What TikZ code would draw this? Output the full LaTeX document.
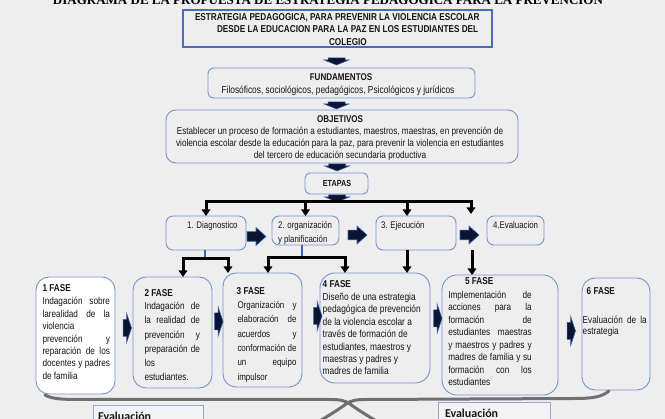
\documentclass[tikz,border=0pt]{standalone}
\usepackage{fontspec}
\setmainfont{Liberation Sans}[FakeStretch=0.82]
\newfontfamily\titlefont{Liberation Serif}
\newfontfamily\evfont{Carlito}
\usetikzlibrary{arrows.meta,calc}
\newcommand{\J}[1]{\makebox[\linewidth][s]{#1}}
\definecolor{bgc}{RGB}{238,238,238}
\definecolor{bord}{RGB}{118,150,205}
\definecolor{bordB}{RGB}{70,110,185}
\definecolor{navy}{RGB}{12,20,48}
\definecolor{arrblue}{RGB}{60,100,180}
\definecolor{txt}{RGB}{22,22,22}
\definecolor{brc}{RGB}{112,112,112}
\definecolor{evb}{RGB}{140,170,220}
\definecolor{evfill}{RGB}{243,243,243}
\begin{document}
\begin{tikzpicture}[x=1pt,y=-1pt,
  rbox/.style={draw=bord, line width=0.9pt, rounded corners=#1, inner sep=0pt, outer sep=0pt, anchor=north west},
  tx/.style={anchor=base west, inner sep=0pt, outer sep=0pt, text=txt},
  ctx/.style={anchor=base, inner sep=0pt, outer sep=0pt, text=txt},
  hd/.style={tx, font=\fontsize{10}{12}\selectfont\bfseries},
  barline/.style={line width=3pt, black, line cap=rect},
  barr/.style={line width=3pt, black, -{Triangle[width=8.5pt,length=6.5pt]}},
  tickline/.style={line width=2pt, arrblue},
  bracel/.style={line width=3pt, brc, line cap=round},
  dnarr/.pic={\filldraw[fill=navy, draw=arrblue, line width=0.5pt] (-8.5,0) -- (8.5,0) -- (8.5,2) -- (12.5,2) -- (0,7) -- (-12.5,2) -- (-8.5,2) -- cycle;},
  rblk/.pic={\filldraw[fill=navy, draw=arrblue, line width=0.6pt] (0,-4.8) -- (9,-4.8) -- (9,-9) -- (19,0) -- (9,9) -- (9,4.8) -- (0,4.8) -- cycle;},
  narr/.pic={\filldraw[fill=navy, draw=arrblue, line width=0.5pt] (0,-8.5) -- (3.5,-8.5) -- (3.5,-15) -- (8.5,0) -- (3.5,15) -- (3.5,8.5) -- (0,8.5) -- cycle;}
]
\useasboundingbox (0,0) rectangle (665,419);
\fill[bgc] (0,0) rectangle (665,419);

% title (cut at top)
\node[ctx, text=black, font=\titlefont\bfseries\fontsize{13}{13}\selectfont] (title) at (328,5) {DIAGRAMA DE LA PROPUESTA DE ESTRATEGIA PEDAGOGICA PARA LA PREVENCION};

% main box
\node[draw=bordB, line width=1.3pt, anchor=north west, inner sep=0pt, outer sep=0pt, minimum width=309pt, minimum height=37pt] (b0) at (183,10) {};
\node[tx, font=\fontsize{10}{12.4}\selectfont\bfseries] (b0t) at (195,20.5) {\parbox[t]{300pt}{ESTRATEGIA PEDAGOGICA, PARA PREVENIR LA VIOLENCIA ESCOLAR\\\hspace*{22pt}DESDE LA EDUCACION PARA LA PAZ EN LOS ESTUDIANTES DEL\\\hspace*{134pt}COLEGIO}};

% fundamentos
\node[rbox=6pt, minimum width=267pt, minimum height=30pt] (fund) at (208,68) {};
\node[ctx, font=\fontsize{9.8}{12}\selectfont\bfseries] (fundh) at (341,80.5) {FUNDAMENTOS};
\node[ctx, font=\fontsize{10.2}{12}\selectfont] (fundt) at (338,93.5) {Filosóficos, sociológicos, pedagógicos, Psicológicos y jurídicos};

% objetivos
\node[rbox=10pt, minimum width=352pt, minimum height=53pt] (obj) at (166,110) {};
\node[ctx, font=\fontsize{9.8}{11}\selectfont\bfseries] (objh) at (340,122.6) {OBJETIVOS};
\node[ctx, font=\fontsize{10}{11.8}\selectfont] (objt) at (340,135) {\parbox[t]{345pt}{\centering Establecer un proceso de formación a estudiantes, maestros, maestras, en prevención de\\violencia escolar desde la educación para la paz, para prevenir la violencia en estudiantes\\del tercero de educación secundaria productiva}};

% etapas
\node[rbox=5pt, minimum width=63pt, minimum height=21pt] (etapas) at (305,173) {};
\node[ctx, font=\fontsize{8.8}{10}\selectfont\bfseries] (etapast) at (337,186.5) {ETAPAS};

% small down arrows
\pic at ($(b0.south)+(-1,11)$) {dnarr};
\pic at ($(fund.south)+(-5,4)$) {dnarr};
\pic at ($(obj.south)+(-5,1)$) {dnarr};
\pic at ($(etapas.south)+(0.5,1)$) {dnarr};

% stage boxes
\node[rbox=7pt, minimum width=80pt, minimum height=34pt] (s1) at (166,216) {};
\node[rbox=7pt, minimum width=67pt, minimum height=29pt] (s2) at (272,216) {};
\node[rbox=7pt, minimum width=80pt, minimum height=34pt] (s3) at (376,216) {};
\node[rbox=7pt, minimum width=57pt, minimum height=29pt] (s4) at (487,216) {};
\node[tx, font=\fontsize{9.6}{14.5}\selectfont] (s1t) at (187,228.5) {1. Diagnostico};
\node[tx, font=\fontsize{9.6}{14.5}\selectfont] (s2t) at (278,228.5) {\parbox[t]{60pt}{2. organización\\y planificación}};
\node[tx, font=\fontsize{9.6}{14.5}\selectfont] (s3t) at (381,228.5) {3. Ejecución};
\node[tx, font=\fontsize{9.6}{14.5}\selectfont] (s4t) at (493,228.5) {4.Evaluacion};

% top bar with arrows
\coordinate (tbL) at (206,202);
\coordinate (tbR) at (471,202);
\coordinate (t4) at (471,214);
\draw[barline] (tbL) -- (tbR);
\draw[barr] (tbL) -- (s1.north);
\draw[barr] (tbL -| s2.north) -- (s2.north);
\coordinate (t3) at ($(s3.north)+(-9,0)$);
\draw[barr] (tbL -| t3) -- (t3);
\draw[barr] (tbR) -- (t4);

% block arrows between stages
\pic at (247,236.5) {rblk};
\pic at (348,235) {rblk};
\pic at (460,235) {rblk};

% fase boxes
\node[rbox=13pt, fill=white, minimum width=79pt, minimum height=117pt] (f1) at (36,277) {};
\node[rbox=13pt, minimum width=79pt, minimum height=111pt] (f2) at (133,277) {};
\node[rbox=13pt, minimum width=79pt, minimum height=114pt] (f3) at (223,273) {};
\node[rbox=15pt, minimum width=110pt, minimum height=110pt] (f4) at (320,273) {};
\node[rbox=15pt, minimum width=116pt, minimum height=120pt] (f5) at (442,275) {};
\node[rbox=13pt, minimum width=68pt, minimum height=112pt] (f6) at (582,278) {};

% connectors below stages
\coordinate (k1L) at (183,259);
\coordinate (k1R) at (228,259);
\coordinate (k1M) at (205,259);
\draw[tickline] ($(s1.south)+(-1,0)$) -- (k1M);
\draw[barline] (k1L) -- (k1R);
\draw[barr] (k1L) -- (k1L |- f2.north);
\draw[barr] (k1R) -- (k1R |- f3.north);
\coordinate (k2L) at (268,258);
\coordinate (k2R) at (345,258);
\coordinate (k2M) at (302,258);
\draw[tickline] ($(s2.south)+(-3.5,0)$) -- (k2M);
\draw[barline] (k2L) -- (k2R);
\draw[barr] (k2L) -- (k2L |- f3.north);
\draw[barr] (k2R) -- (k2R |- f4.north);
\coordinate (k3) at ($(s3.south)+(-9,0)$);
\draw[barr] (k3) -- (k3 |- f4.north);
\coordinate (k4) at (472,250);
\draw[barr] (k4) -- (k4 |- f5.north);

% fase arrows
\pic at (123,328) {narr};
\pic at (214.5,321.5) {narr};
\pic at (313.5,316) {narr};
\pic at (433.5,318.5) {narr};
\pic at (567,331) {narr};

% fase texts
\node[hd] (f1h) at (42.5,292) {1 FASE};
\node[tx, font=\fontsize{10}{12.4}\selectfont] (f1t) at (42.5,305) {\parbox[t]{67.5pt}{\J{Indagación sobre}\\\J{larealidad de la}\\violencia\\\J{prevención y}\\\J{reparación de los}\\\J{docentes y padres}\\de familia}};

\node[hd] (f2h) at (144.5,296.3) {2 FASE};
\node[tx, font=\fontsize{10}{14.3}\selectfont] (f2t) at (144.5,309.5) {\parbox[t]{55.5pt}{\J{Indagación de}\\\J{la realidad de}\\\J{prevención y}\\\J{preparación de}\\los\\estudiantes.}};

\node[hd] (f3h) at (236.7,294.3) {3 FASE};
\node[tx, font=\fontsize{9.7}{14.4}\selectfont] (f3t) at (237.5,308.3) {\parbox[t]{59pt}{\J{Organización y}\\\J{elaboración de}\\\J{acuerdos y}\\\J{conformación de}\\\J{un equipo}\\impulsor}};

\node[hd] (f4h) at (322.7,287.6) {4 FASE};
\node[tx, font=\fontsize{10.2}{12.4}\selectfont] (f4t) at (322.7,300.6) {\parbox[t]{105pt}{Diseño de una estrategia\\pedagógica de prevención\\de la violencia escolar a\\través de formación de\\estudiantes, maestros y\\maestras y padres y\\madres de familia}};

\node[hd] (f5h) at (465,284.3) {5 FASE};
\node[tx, font=\fontsize{10}{12.5}\selectfont] (f5t) at (448.3,298.3) {\parbox[t]{83.4pt}{\J{Implementación de}\\\J{acciones para la}\\\J{formación de}\\\J{estudiantes maestras}\\\J{y maestros y padres y}\\\J{madres de familia y su}\\\J{formación con los}\\estudiantes}};

\node[hd] (f6h) at (586.7,294.3) {6 FASE};
\node[tx, font=\fontsize{10}{11.7}\selectfont] (f6t) at (582.7,323.3) {\parbox[t]{64pt}{\J{Evaluación de la}\\estrategia}};

% brace
\draw[bracel] (45,395) .. controls (52,399) and (62,399.5) .. (80,399.5) -- (330,399.5) .. controls (340,399.5) and (345,400.5) .. (350,404) .. controls (358,410) and (368,416) .. (378,422);
\draw[bracel] (609,391) .. controls (602,397) and (592,398.5) .. (575,398.5) -- (366,399.5) .. controls (356,399.5) and (351,400.5) .. (346,404) .. controls (338,410) and (328,416) .. (318,422);

% evaluacion boxes
\node[draw=evb, line width=0.9pt, fill=evfill, anchor=north west, inner sep=0pt, minimum width=110pt, minimum height=30pt] (ev1) at (93,405) {};
\node[tx, font=\evfont\bfseries\fontsize{12}{14}\selectfont] (ev1t) at (98,421) {Evaluación};
\node[draw=evb, line width=0.9pt, fill=evfill, anchor=north west, inner sep=0pt, minimum width=112pt, minimum height=30pt] (ev2) at (438,402) {};
\node[tx, font=\evfont\bfseries\fontsize{12}{14}\selectfont] (ev2t) at (445,418) {Evaluación};
\end{tikzpicture}
\end{document}
